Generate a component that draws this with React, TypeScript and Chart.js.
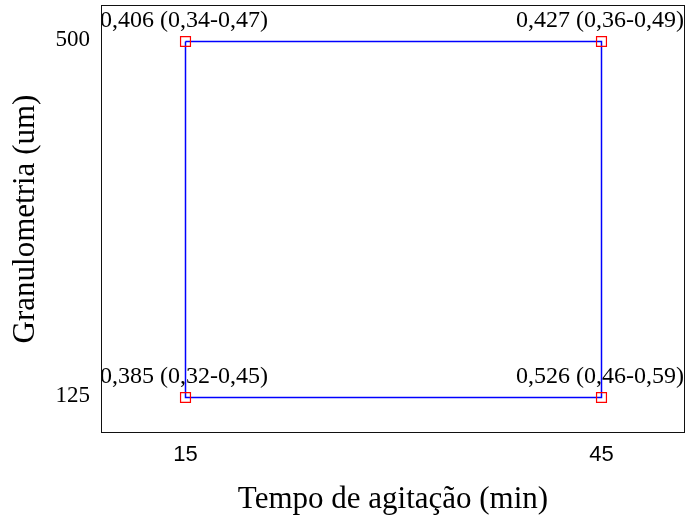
import React, { useEffect, useRef } from "react";
import { Chart, registerables } from "chart.js";

Chart.register(...registerables);

// Tick values
const tempos = [15, 45]; // Tempo de agitação (min)
const granulometrias = [125, 500]; // Granulometria (um)

// Design points
const pointTempo = [15, 45, 15, 45];
const pointGranulo = [500, 500, 125, 125];
const estimate = [0.406, 0.427, 0.385, 0.526];
const lower = [0.34, 0.36, 0.32, 0.46];
const upper = [0.47, 0.49, 0.45, 0.59];

// Order in which the corner points are joined by the outline
const cycle = [0, 1, 3, 2, 0];

const xTitle = "Tempo de agitação (min)";
const yTitle = "Granulometria (um)";

const SERIF = "'Liberation Serif', 'Times New Roman', serif";
const SANS = "'Liberation Sans', Arial, sans-serif";

const fmt = (v: number, d: number) => v.toFixed(d).replace(".", ",");
const labels = estimate.map(
  (e, i) => `${fmt(e, 3)} (${fmt(lower[i], 2)}-${fmt(upper[i], 2)})`
);

const framePlugin = {
  id: "frameAndLabels",
  afterDatasetsDraw(chart: any) {
    const { ctx, chartArea } = chart;
    const { left, top, right, bottom } = chartArea;
    const xs = chart.scales.x;
    const ys = chart.scales.y;
    ctx.save();
    ctx.beginPath();
    ctx.rect(left, top, right - left, bottom - top);
    ctx.clip();
    ctx.fillStyle = "#000";
    ctx.font = `24px ${SERIF}`;
    ctx.textAlign = "center";
    ctx.textBaseline = "middle";
    labels.forEach((t, i) => {
      const x = xs.getPixelForValue(pointTempo[i]);
      const y = ys.getPixelForValue(pointGranulo[i]);
      ctx.fillText(t, x - 1.5, y - 21);
    });
    ctx.restore();

    ctx.save();
    ctx.strokeStyle = "#111";
    ctx.lineWidth = 1;
    ctx.strokeRect(left + 0.5, top - 0.5, right - left - 1, bottom - top + 1);
    ctx.restore();
  },
};

const noPad = (s: any) => {
  s.paddingTop = 0;
  s.paddingBottom = 0;
  s.paddingLeft = 0;
  s.paddingRight = 0;
};

export default function App() {
  const ref = useRef<HTMLCanvasElement | null>(null);

  useEffect(() => {
    if (!ref.current) return;
    const chart = new Chart(ref.current, {
      type: "scatter",
      data: {
        datasets: [
          {
            label: "pontos",
            data: pointTempo.map((x, i) => ({ x, y: pointGranulo[i] })),
            pointStyle: "rect",
            pointRadius: 7,
            pointBorderColor: "#ff0000",
            pointBackgroundColor: "rgba(0,0,0,0)",
            pointBorderWidth: 1.2,
            showLine: false,
            order: 0,
          },
          {
            label: "contorno",
            data: cycle.map((i) => ({ x: pointTempo[i], y: pointGranulo[i] })),
            showLine: true,
            borderColor: "#0000ff",
            borderWidth: 1.5,
            pointRadius: 0,
            fill: false,
            order: 1,
          },
        ],
      },
      options: {
        animation: false,
        responsive: true,
        maintainAspectRatio: false,
        layout: { autoPadding: false, padding: { top: 6, right: 2, left: 0, bottom: 0 } },
        plugins: {
          legend: { display: false },
          tooltip: { enabled: false },
        },
        scales: {
          x: {
            type: "linear",
            min: 8.906,
            max: 51.022,
            grid: { display: false, drawTicks: false },
            border: { display: false },
            afterBuildTicks: (s: any) => {
              s.ticks = tempos.map((v) => ({ value: v }));
            },
            afterFit: (s: any) => {
              s.height = 89;
              noPad(s);
            },
            ticks: {
              color: "#000",
              padding: 10,
              font: { family: SANS, size: 22 },
              maxRotation: 0,
              autoSkip: false,
              callback: (v: any) => String(v),
            },
            title: {
              display: true,
              text: xTitle,
              color: "#000",
              font: { family: SERIF, size: 31 },
              padding: { top: 0, bottom: 3 },
            },
          },
          y: {
            type: "linear",
            min: 88.66,
            max: 537.4,
            grid: { display: false, drawTicks: false },
            border: { display: false },
            afterBuildTicks: (s: any) => {
              s.ticks = granulometrias.map((v) => ({ value: v }));
            },
            afterFit: (s: any) => {
              s.width = 101;
              noPad(s);
            },
            ticks: {
              color: "#000",
              padding: 11,
              labelOffset: -2,
              font: { family: SERIF, size: 23 },
              autoSkip: false,
              callback: (v: any) => String(v),
            },
            title: {
              display: true,
              text: yTitle,
              color: "#000",
              font: { family: SERIF, size: 31 },
              padding: { top: 7, bottom: 0 },
            },
          },
        },
      },
      plugins: [framePlugin],
    });
    return () => chart.destroy();
  }, []);

  return (
    <div
      style={{
        position: "fixed",
        left: 0,
        top: 0,
        width: 687,
        height: 521,
        background: "#fff",
      }}
    >
      <canvas ref={ref} />
    </div>
  );
}
